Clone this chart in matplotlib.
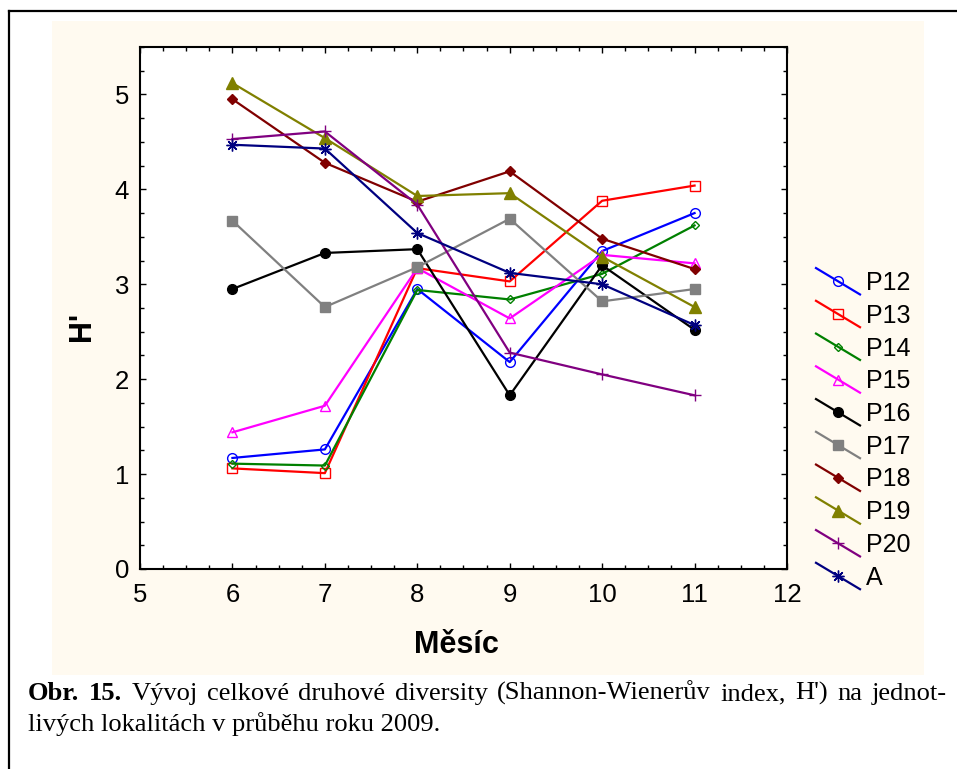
import matplotlib
matplotlib.use('Agg')
import matplotlib.pyplot as plt
from matplotlib.lines import Line2D
from matplotlib.patches import Rectangle
from matplotlib.legend_handler import HandlerLine2D
from matplotlib.ticker import MultipleLocator

W, H = 957, 769

months = [6, 7, 8, 9, 10, 11]
labels = ['P12', 'P13', 'P14', 'P15', 'P16', 'P17', 'P18', 'P19', 'P20', 'A']
p12 = [1.17, 1.26, 2.95, 2.18, 3.35, 3.75]
p13 = [1.06, 1.01, 3.17, 3.03, 3.88, 4.04]
p14 = [1.11, 1.09, 2.94, 2.84, 3.11, 3.62]
p15 = [1.44, 1.72, 3.17, 2.64, 3.31, 3.22]
p16 = [2.95, 3.33, 3.37, 1.83, 3.20, 2.52]
p17 = [3.67, 2.76, 3.18, 3.69, 2.82, 2.95]
p18 = [4.95, 4.28, 3.87, 4.19, 3.48, 3.16]
p19 = [5.12, 4.54, 3.93, 3.96, 3.29, 2.76]
p20 = [4.53, 4.61, 3.84, 2.28, 2.05, 1.83]
a = [4.47, 4.43, 3.54, 3.12, 3.00, 2.57]
series = [p12, p13, p14, p15, p16, p17, p18, p19, p20, a]

colors = ['#0000ff', '#ff0000', '#008000', '#ff00ff', '#000000',
          '#808080', '#800000', '#808000', '#800080', '#000080']
markers = ['o', 's', 'D', '^', 'o', 's', 'D', '^', '+', (8, 2, 0)]
filled = [False, False, False, False, True, True, True, True, True, True]
msizes = [7, 7, 4.5, 7, 7, 7, 5.5, 8, 8, 8.5]

caption1 = [('Obr.', 'bold'), ('15.', 'bold'), ('Vývoj', 'normal'),
            ('celkové', 'normal'), ('druhové', 'normal'), ('diversity', 'normal'),
            ('(Shannon-Wienerův', 'normal'), ('index,', 'normal'), ("H')", 'normal'),
            ('na', 'normal'), ('jednot-', 'normal')]
caption2 = 'livých lokalitách v průběhu roku 2009.'


def fx(x):
    return x / W


def fy(y):
    return 1 - y / H


class DiagHandler(HandlerLine2D):
    def create_artists(self, legend, orig_handle, xdescent, ydescent,
                       width, height, fontsize, trans):
        ym = height / 2 - ydescent
        dy = 9.5
        line = Line2D([-xdescent, -xdescent + width], [ym + dy, ym - dy])
        self.update_prop(line, orig_handle, legend)
        line.set_marker('None')
        mk = Line2D([-xdescent + width / 2], [ym])
        self.update_prop(mk, orig_handle, legend)
        mk.set_linestyle('None')
        line.set_transform(trans)
        mk.set_transform(trans)
        return [line, mk]


def caption_size(fig, words, x0, x1):
    # font size at which the first line fits with normal word spaces
    r = fig.canvas.get_renderer()
    total = 0
    for w, wt in words:
        t = fig.text(0, 0, w, fontsize=10, weight=wt, family='Liberation Serif')
        total += t.get_window_extent(r).width
        t.remove()
    total += (len(words) - 1) * 0.25 * 10 * 100 / 72
    return 10 * (x1 - x0) / total


def justify(fig, words, y, x0, x1, size):
    r = fig.canvas.get_renderer()
    texts = []
    for w, wt in words:
        t = fig.text(0, fy(y), w, fontsize=size, weight=wt,
                     family='Liberation Serif', va='baseline', ha='left')
        texts.append(t)
    widths = [t.get_window_extent(r).width for t in texts]
    gap = (x1 - x0 - sum(widths)) / (len(texts) - 1)
    x = x0
    for t, wd in zip(texts, widths):
        t.set_x(fx(x))
        x += wd + gap


fig = plt.figure(figsize=(W / 100, H / 100), dpi=100)
fig.patch.set_facecolor('white')
fig.add_artist(Rectangle((fx(52), fy(675)), fx(924 - 52), (675 - 21) / H,
                         transform=fig.transFigure, facecolor='#fffaf0',
                         edgecolor='none', zorder=0))
fig.add_artist(Line2D([fx(9), fx(9)], [0, fy(11)], color='black', lw=1.6,
                      transform=fig.transFigure))
fig.add_artist(Line2D([fx(9), 1], [fy(11), fy(11)], color='black', lw=1.6,
                      transform=fig.transFigure))

ax = fig.add_axes([fx(140), fy(569), fx(787 - 140), (569 - 47) / H])
ax.set_facecolor('white')

for vals, lab, c, m, f, ms in zip(series, labels, colors, markers, filled, msizes):
    ax.plot(months, vals, color=c, lw=1.6, marker=m, ms=ms,
            markerfacecolor=c if f else 'none', markeredgecolor=c,
            markeredgewidth=1.0, label=lab)

ax.set_xlim(5, 12)
ax.set_ylim(0, 5.5)
ax.xaxis.set_major_locator(MultipleLocator(1))
ax.xaxis.set_minor_locator(MultipleLocator(0.25))
ax.yaxis.set_major_locator(MultipleLocator(1))
ax.yaxis.set_minor_locator(MultipleLocator(0.25))
ax.tick_params(which='both', direction='in', top=True, right=True,
               color='black', width=1)
ax.tick_params(which='major', length=4)
ax.tick_params(which='minor', length=3)
ax.tick_params(axis='x', pad=10)
ax.tick_params(axis='y', pad=8)
for lab in ax.get_xticklabels() + ax.get_yticklabels():
    lab.set_family('Liberation Sans')
    lab.set_fontsize(18.5)
for s in ax.spines.values():
    s.set_linewidth(1.5)
    s.set_color('black')

fig.text(fx(82), fy(326), "H'", rotation=90, fontsize=22, weight='bold',
         family='Liberation Sans', ha='center', va='center')
fig.text(fx(456), fy(645), 'Měsíc', fontsize=22, weight='bold',
         family='Liberation Sans', ha='center', va='center')

leg = ax.legend(handler_map={Line2D: DiagHandler()}, frameon=False,
                loc='upper left', bbox_to_anchor=(fx(816), fy(271)),
                bbox_transform=fig.transFigure, borderpad=0, borderaxespad=0,
                handlelength=1.76, handletextpad=0.25, labelspacing=0.35,
                prop={'family': 'Liberation Sans', 'size': 18})

size = caption_size(fig, caption1, 28, 947) * 0.97
justify(fig, caption1, 700, 28, 947, size)
fig.text(fx(28), fy(731), caption2, fontsize=size, family='Liberation Serif',
         va='baseline', ha='left')

fig.savefig('out.png', dpi=100)
